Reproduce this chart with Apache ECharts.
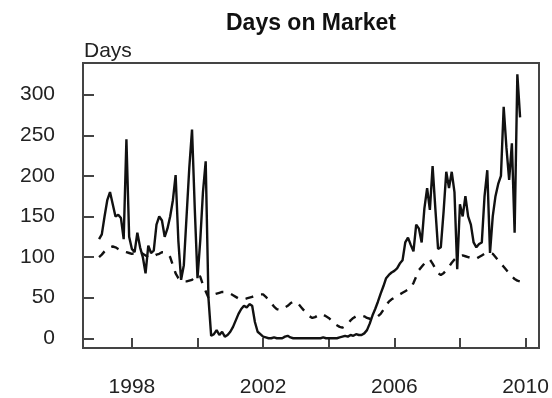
<!DOCTYPE html>
<html>
<head>
<meta charset="utf-8">
<script src="https://cdn.jsdelivr.net/npm/echarts@6/dist/echarts.min.js"></script>
<style>
html,body{margin:0;padding:0;background:#fff;}
#c{width:552px;height:398px;}
</style>
</head>
<body>
<div id="c"></div>
<script>
// ---- data (monthly, starting January 1997) ----
var startYear = 1997;
var titleText = "Days on Market";
var yAxisTitle = "Days";
var yTicks = [0, 50, 100, 150, 200, 250, 300];
var xTicks = [1998, 2000, 2002, 2004, 2006, 2008, 2010];
var xTickLabels = [1998, 2002, 2006, 2010];

var solidValues = [
  122, 128, 150, 170, 180, 165, 150, 152, 148, 122, 245, 125,
  110, 106, 130, 112, 100, 80, 114, 105, 108, 140, 150, 145,
  125, 135, 150, 170, 201, 120, 72, 90, 150, 210, 257, 160,
  74, 120, 180, 218, 50, 3, 5, 10, 4, 8, 2, 4,
  8, 14, 22, 30, 36, 40, 38, 42, 40, 20, 8, 5,
  2, 1, 0, 0, 1, 0, 0, 0, 2, 3, 1, 0,
  0, 0, 0, 0, 0, 0, 0, 0, 0, 0, 1, 0,
  0, 0, 0, 0, 1, 2, 3, 2, 4, 3, 5, 4,
  4, 6, 10, 18, 28, 36, 45, 55, 64, 74, 78, 81,
  83, 86, 92, 96, 118, 124, 115, 107, 140, 135, 118, 160,
  185, 158, 212, 160, 110, 112, 155, 205, 185, 205, 180, 85,
  165, 150, 175, 150, 140, 118, 112, 116, 118, 175, 207, 105,
  150, 175, 190, 200, 285, 235, 195, 240, 130, 325, 272
];

var dashedValues = [
  100, 103, 107, 110, 112, 113, 112, 110, 108, 107, 106, 105,
  104, 105, 106, 106, 104, 102, 100, 100, 101, 103, 104, 106,
  106, 104, 100, 90, 80, 74, 72, 70, 70, 71, 72, 75,
  78, 76, 66, 58, 50, 52, 54, 55, 56, 57, 57, 56,
  55, 53, 51, 49, 48, 48, 49, 50, 51, 52, 53, 54,
  54, 51, 47, 43, 39, 36, 35, 36, 38, 40, 43, 45,
  45, 42, 38, 34, 30, 27, 25, 26, 28, 30, 29, 27,
  25, 22, 18, 16, 14, 13, 15, 18, 22, 25, 27, 28,
  28, 27, 25, 24, 24, 25, 27, 30, 35, 41, 45, 48,
  50, 52, 54, 56, 58, 60, 62, 68, 76, 84, 88, 92,
  96, 97, 92, 86, 80, 78, 80, 84, 88, 93, 97, 100,
  101, 102, 101, 100, 99, 98, 98, 100, 102, 104, 105, 105,
  104, 100, 96, 92, 88, 84, 80, 76, 73, 71, 70
];

function toPairs(vals) {
  return vals.map(function (v, i) { return [startYear + i / 12, v]; });
}

var FONT = "'Liberation Sans', Arial, Helvetica, sans-serif";
var chart = echarts.init(document.getElementById('c'), null, {renderer: 'canvas'});
chart.setOption({
  animation: false,
  backgroundColor: '#fff',
  grid: {left: 83, right: 13, top: 63, bottom: 50, show: true, borderColor: '#444', borderWidth: 2, backgroundColor: 'transparent'},
  graphic: [
    {type: 'text', x: 311, y: 12, style: {text: titleText, font: 'bold 23px ' + FONT, fill: '#111', textAlign: 'center', textVerticalAlign: 'top'}},
    {type: 'text', x: 84, y: 41, style: {text: yAxisTitle, font: '21px ' + FONT, fill: '#222', textVerticalAlign: 'top'}}
  ],
  xAxis: {
    type: 'value', min: 1996.51, max: 2010.41, position: 'bottom',
    axisLine: {show: true, onZero: false, lineStyle: {color: '#444', width: 2}},
    splitLine: {show: false},
    axisTick: {show: true, inside: true, length: 10, customValues: xTicks, lineStyle: {color: '#444', width: 2}},
    axisLabel: {show: true, customValues: xTickLabels, margin: 29, fontSize: 21, fontFamily: FONT, color: '#222',
      formatter: function (v) { return String(Math.round(v)); }}
  },
  yAxis: {
    type: 'value', min: -12, max: 339, position: 'left',
    axisLine: {show: true, onZero: false, lineStyle: {color: '#444', width: 2}},
    splitLine: {show: false},
    axisTick: {show: true, inside: true, length: 11, customValues: yTicks, lineStyle: {color: '#444', width: 2}},
    axisLabel: {show: true, customValues: yTicks, margin: 28, fontSize: 21, fontFamily: FONT, color: '#222',
      formatter: function (v) { return String(Math.round(v)); }}
  },
  series: [
    {type: 'line', data: toPairs(dashedValues), showSymbol: false, symbol: 'none',
     lineStyle: {color: '#111', width: 2.4, type: [8, 8]}, z: 2},
    {type: 'line', data: toPairs(solidValues), showSymbol: false, symbol: 'none',
     lineStyle: {color: '#111', width: 2.4}, z: 3}
  ]
});
</script>
</body>
</html>
